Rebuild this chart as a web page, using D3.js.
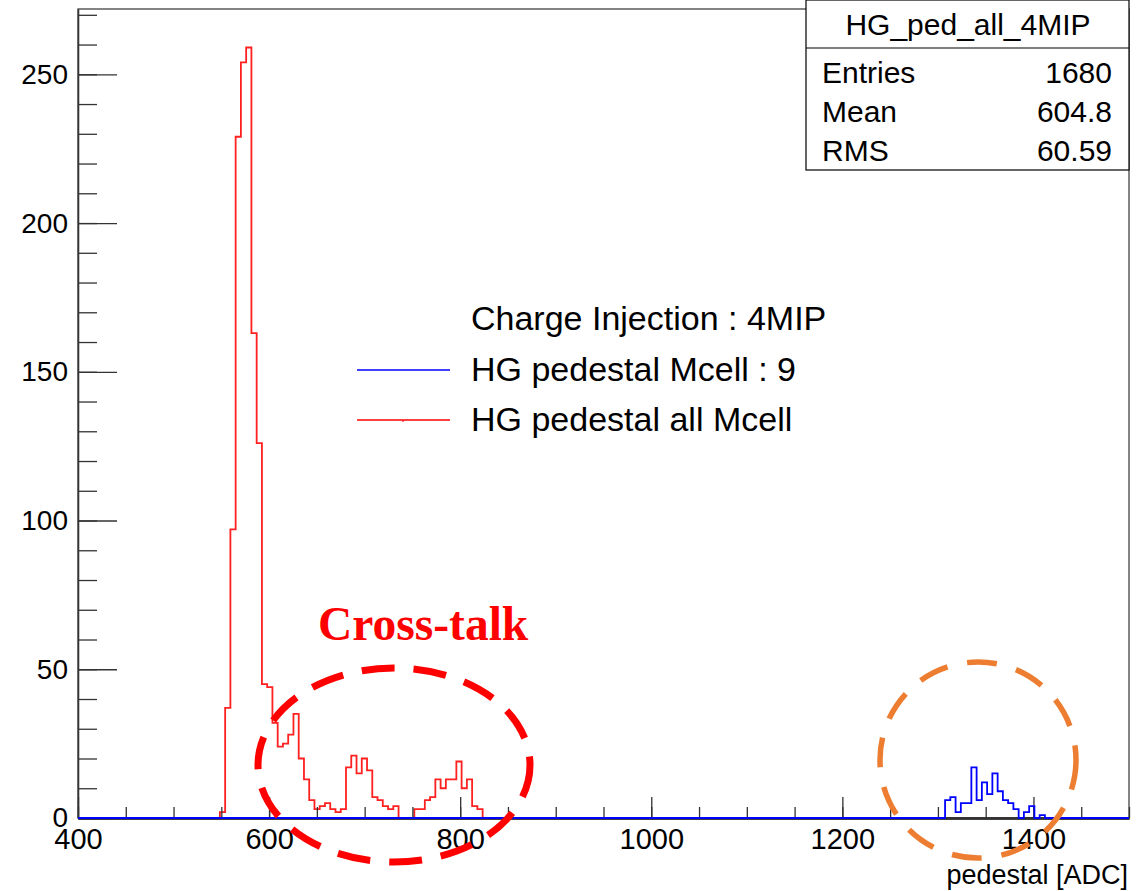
<!DOCTYPE html>
<html>
<head>
<meta charset="utf-8">
<script src="https://cdn.jsdelivr.net/npm/d3@7"></script>
<style>
  body { margin: 0; background: #fff; }
  svg text { fill: #000; }
</style>
</head>
<body>
<div id="chart"></div>
<script>
// histogram binning (ADC)
var xMin = 400, xMax = 1500, binWidth = 5.5;
var nBins = 200;

// HG pedestal all Mcell (red), counts starting at bin index redFirstBin
var redFirstBin = 27;
var redCounts = [2, 37, 97, 229, 254, 259, 163, 126, 45, 44,
                 32, 24, 25, 28, 35, 20, 13, 6, 3, 4,
                 5, 3, 2, 3, 17, 21, 15, 20, 16, 7,
                 6, 4, 3, 4, 0, 0, 0, 3, 3, 6,
                 7, 13, 10, 13, 13, 19, 10, 13, 4, 3];

// HG pedestal Mcell : 9 (blue)
var blueFirstBin = 165;
var blueCounts = [6, 7, 2, 5, 5, 17, 6, 12, 8, 15,
                  9, 6, 5, 3, 0, 2, 4, 0, 1];

var xTicksMajor = [400, 600, 800, 1000, 1200, 1400];
var yTicksMajor = [0, 50, 100, 150, 200, 250];

var statsTitle = "HG_ped_all_4MIP";
var statsNames = ["Entries", "Mean", "RMS"];
var statsValues = ["1680", "604.8", "60.59"];

var legendTitle = "Charge Injection : 4MIP";
var legendNames = ["HG pedestal Mcell : 9", "HG pedestal all Mcell"];
var legendColors = ["#0000ff", "#ff0000"];

var yMax = 259 * 1.05;

var sans = "'Liberation Sans', Arial, sans-serif";

// svg
var svgWidth = 1147;
var svgHeight = 891;
var frame = { left: 78, right: 1129, top: 9, bottom: 818 };

var svg = d3.select("#chart")
    .append("svg")
    .attr("width", svgWidth)
    .attr("height", svgHeight)
    .style("font-family", sans);

var x = d3.scaleLinear().domain([xMin, xMax]).range([frame.left, frame.right]);
var y = d3.scaleLinear().domain([0, yMax]).range([frame.bottom, frame.top]);

// build full bin arrays
function fullHist(first, counts) {
    var h = new Array(nBins).fill(0);
    counts.forEach(function(c, i) { h[first + i] = c; });
    return h;
}

function histPath(h) {
    var pts = [[xMin, 0]];
    h.forEach(function(c, i) {
        var lo = xMin + i * binWidth;
        pts.push([lo, c]);
        pts.push([lo + binWidth, c]);
    });
    pts.push([xMax, 0]);
    return d3.line().x(d => x(d[0])).y(d => y(d[1]))(pts);
}

// red histogram goes first, axes cover its zero line
svg.append("path")
    .attr("d", histPath(fullHist(redFirstBin, redCounts)))
    .attr("fill", "none")
    .attr("stroke", "#ff2020")
    .attr("stroke-width", 1.8);

// frame
svg.append("rect")
    .attr("x", frame.left)
    .attr("y", frame.top)
    .attr("width", frame.right - frame.left)
    .attr("height", frame.bottom - frame.top)
    .attr("fill", "none")
    .attr("stroke", "#333")
    .attr("stroke-width", 1.2);

// x axis: minor then major ticks
var xMinor = d3.axisBottom(x)
    .tickValues(d3.range(xMin, xMax + 1, 50))
    .tickSizeInner(-11).tickSizeOuter(0)
    .tickFormat("");
svg.append("g")
    .attr("class", "x-axis")
    .attr("transform", `translate(0, ${frame.bottom})`)
    .call(xMinor);

var xMajor = d3.axisBottom(x)
    .tickValues(xTicksMajor)
    .tickSizeInner(-21).tickSizeOuter(0)
    .tickPadding(10)
    .tickFormat(d3.format("d"));
var gx = svg.append("g")
    .attr("class", "x-axis")
    .attr("transform", `translate(0, ${frame.bottom})`)
    .call(xMajor);
gx.selectAll("text").attr("font-size", 29).style("font-family", sans);

// y axis
var yMinor = d3.axisLeft(y)
    .tickValues(d3.range(0, 271, 10))
    .tickSizeInner(-19).tickSizeOuter(0)
    .tickFormat("");
svg.append("g")
    .attr("transform", `translate(${frame.left}, 0)`)
    .call(yMinor);

var yMajor = d3.axisLeft(y)
    .tickValues(yTicksMajor)
    .tickSizeInner(-39).tickSizeOuter(0)
    .tickPadding(10)
    .tickFormat(d3.format("d"));
var gy = svg.append("g")
    .attr("transform", `translate(${frame.left}, 0)`)
    .call(yMajor);
gy.selectAll("text").attr("font-size", 28).style("font-family", sans);

svg.selectAll(".domain, .tick line")
    .attr("stroke", "#333")
    .attr("stroke-width", 1.3);
svg.selectAll(".x-axis .domain")
    .attr("stroke-width", 2.4);

// blue histogram on top
svg.append("path")
    .attr("d", histPath(fullHist(blueFirstBin, blueCounts)))
    .attr("fill", "none")
    .attr("stroke", "#0000ff")
    .attr("stroke-width", 1.8);

// x title
svg.append("text")
    .attr("x", 1128)
    .attr("y", 884)
    .attr("text-anchor", "end")
    .attr("font-size", 27)
    .text("pedestal [ADC]");

// stats box
var statsGroup = svg.append("g");
statsGroup.append("rect")
    .attr("x", 806).attr("y", 0)
    .attr("width", 323).attr("height", 170)
    .attr("fill", "#fff")
    .attr("stroke", "#000")
    .attr("stroke-width", 1.2);
statsGroup.append("line")
    .attr("x1", 806).attr("x2", 1129)
    .attr("y1", 48).attr("y2", 48)
    .attr("stroke", "#000")
    .attr("stroke-width", 1.2);
statsGroup.append("text")
    .attr("x", 968).attr("y", 35)
    .attr("text-anchor", "middle")
    .attr("font-size", 30)
    .text(statsTitle);
statsNames.forEach(function(name, i) {
    statsGroup.append("text")
        .attr("x", 822).attr("y", 83 + i * 39)
        .attr("font-size", 30)
        .text(name);
    statsGroup.append("text")
        .attr("x", 1112).attr("y", 83 + i * 39)
        .attr("text-anchor", "end")
        .attr("font-size", 30)
        .text(statsValues[i]);
});

// legend
var legendGroup = svg.append("g");
legendGroup.append("text")
    .attr("x", 471).attr("y", 330)
    .attr("font-size", 34)
    .text(legendTitle);
legendNames.forEach(function(name, i) {
    var ly = 370 + i * 50;
    legendGroup.append("line")
        .attr("x1", 357).attr("x2", 450)
        .attr("y1", ly).attr("y2", ly)
        .attr("stroke", legendColors[i])
        .attr("stroke-width", 1.5);
    legendGroup.append("text")
        .attr("x", 471).attr("y", ly + 11)
        .attr("font-size", 34)
        .text(name);
});
// tiny marker tick on the red legend line
legendGroup.append("line")
    .attr("x1", 403).attr("x2", 403)
    .attr("y1", 420).attr("y2", 422)
    .attr("stroke", "#ff0000")
    .attr("stroke-width", 1);

// annotations
svg.append("ellipse")
    .attr("cx", 394).attr("cy", 765)
    .attr("rx", 136).attr("ry", 97)
    .attr("fill", "none")
    .attr("stroke", "#ff0000")
    .attr("stroke-width", 7)
    .attr("stroke-dasharray", "33 19");

svg.append("ellipse")
    .attr("cx", 978).attr("cy", 760)
    .attr("rx", 98).attr("ry", 98)
    .attr("fill", "none")
    .attr("stroke", "#ed7d31")
    .attr("stroke-width", 5.5)
    .attr("stroke-dasharray", "30 20");

svg.append("text")
    .attr("x", 318).attr("y", 640)
    .style("font-family", "'Liberation Serif', 'Times New Roman', serif")
    .attr("font-weight", "bold")
    .attr("font-size", 47.5)
    .style("fill", "#ff0000")
    .text("Cross-talk");
</script>
</body>
</html>
